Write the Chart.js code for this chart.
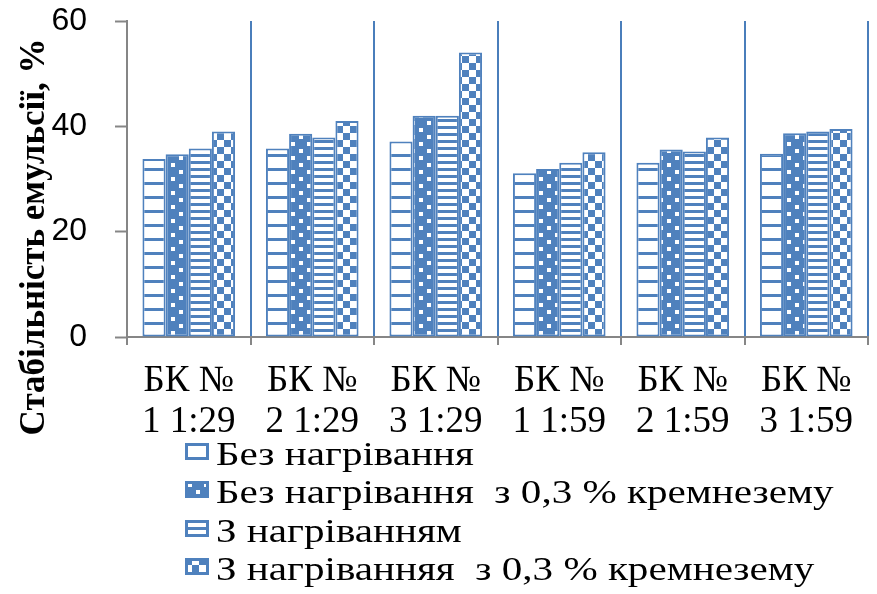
<!DOCTYPE html>
<html>
<head>
<meta charset="utf-8">
<script src="https://cdn.jsdelivr.net/npm/chart.js@4/dist/chart.umd.min.js"></script>
<style>
  html, body { margin: 0; padding: 0; background: #ffffff; }
  #wrap { width: 877px; height: 594px; }
  canvas { display: block; }
</style>
</head>
<body>
<div id="wrap"><canvas id="c" width="877" height="594"></canvas></div>
<script>
// Samples: emulsion stability with and without heating / silica additive
const categories = [
  ['БК №', '1 1:29'],
  ['БК №', '2 1:29'],
  ['БК №', '3 1:29'],
  ['БК №', '1 1:59'],
  ['БК №', '2 1:59'],
  ['БК №', '3 1:59']
];

const seriesNames = [
  'Без нагрівання',
  'Без нагрівання  з 0,3 % кремнезему',
  'З нагріванням',
  'З нагріванняя  з 0,3 % кремнезему'
];

const noHeating       = [33.8, 35.8, 37.1, 31.1, 33.1, 34.8];
const noHeatingSilica = [34.7, 38.6, 42.0, 31.9, 35.6, 38.7];
const heating         = [35.8, 37.9, 42.0, 33.1, 35.2, 39.0];
const heatingSilica   = [39.0, 41.0, 54.0, 35.1, 37.9, 39.5];

const yTicks = [0, 20, 40, 60];
const yTitle = 'Стабільність емульсії, %';

const BLUE = '#4F81BD';
const GRID_BLUE = '#4A7EBB';
const AXIS_GREY = '#868686';
const SERIF = '"Liberation Serif", "Times New Roman", serif';
const SANS = '"Liberation Sans", Arial, sans-serif';

const canvas = document.getElementById('c');
const ctx = canvas.getContext('2d');

// Tile-based fills for the four bar series
function makePattern(w, h, draw) {
  const tile = document.createElement('canvas');
  tile.width = w; tile.height = h;
  const g = tile.getContext('2d');
  draw(g, w, h);
  return ctx.createPattern(tile, 'repeat');
}

const wideStripes = makePattern(8, 14, (g, w, h) => {
  g.fillStyle = '#ffffff'; g.fillRect(0, 0, w, h);
  g.fillStyle = BLUE; g.fillRect(0, 0, w, 3);
});

const dots = makePattern(16, 14, (g, w, h) => {
  g.fillStyle = BLUE; g.fillRect(0, 0, w, h);
  g.fillStyle = '#ffffff';
  g.fillRect(3, 2, 4, 4);
  g.fillRect(11, 9, 4, 4);
});

const narrowStripes = makePattern(8, 7, (g, w, h) => {
  g.fillStyle = '#ffffff'; g.fillRect(0, 0, w, h);
  g.fillStyle = BLUE; g.fillRect(0, 0, w, 3);
});

const checker = makePattern(14, 14, (g, w, h) => {
  g.fillStyle = '#ffffff'; g.fillRect(0, 0, w, h);
  g.fillStyle = BLUE;
  g.fillRect(0, 0, 7, 7);
  g.fillRect(7, 7, 7, 7);
});

const fills = [wideStripes, dots, narrowStripes, checker];
const values = [noHeating, noHeatingSilica, heating, heatingSilica];

// Rotated axis title and a left-aligned stacked legend
const annotate = {
  id: 'annotate',
  afterDraw(chart) {
    const c = chart.ctx;
    c.save();
    c.translate(35, 237);
    c.rotate(-Math.PI / 2);
    c.font = 'bold 35px ' + SERIF;
    c.fillStyle = '#000000';
    c.textAlign = 'center';
    c.textBaseline = 'middle';
    c.fillText(yTitle, 0, 0);
    c.restore();

    const markerX = 185, markerW = 24, markerH = 17;
    const textX = 216;
    const baseline0 = 465, step = 38.4;
    chart.data.datasets.forEach((ds, i) => {
      const base = baseline0 + i * step;
      const top = Math.round(base - 22);
      c.save();
      c.translate(markerX, top);
      c.fillStyle = ds.backgroundColor;
      c.fillRect(0, 0, markerW, markerH);
      c.lineWidth = 3;
      c.strokeStyle = BLUE;
      c.strokeRect(1.5, 1.5, markerW - 3, markerH - 3);
      c.restore();

      c.save();
      c.translate(textX, base);
      c.scale(1.245, 1);
      c.font = '33px ' + SERIF;
      c.fillStyle = '#000000';
      c.textAlign = 'left';
      c.textBaseline = 'alphabetic';
      c.fillText(ds.label, 0, 0);
      c.restore();
    });
  }
};

new Chart(ctx, {
  type: 'bar',
  data: {
    labels: categories,
    datasets: seriesNames.map((name, i) => ({
      label: name,
      data: values[i],
      backgroundColor: fills[i],
      borderColor: BLUE,
      borderWidth: 2,
      borderSkipped: false,
      categoryPercentage: 0.75,
      barPercentage: 1.0
    }))
  },
  options: {
    responsive: false,
    animation: false,
    devicePixelRatio: 1,
    layout: { padding: { top: 21, right: 9, bottom: 0, left: 0 } },
    plugins: {
      legend: { display: false },
      tooltip: { enabled: false },
      title: { display: false }
    },
    scales: {
      x: {
        offset: true,
        grid: {
          offset: true,
          display: true,
          drawOnChartArea: true,
          color: GRID_BLUE,
          lineWidth: 2,
          tickColor: AXIS_GREY,
          tickWidth: 2,
          tickLength: 8
        },
        border: { display: true, color: AXIS_GREY, width: 2 },
        ticks: {
          color: '#000000',
          padding: 16,
          maxRotation: 0,
          autoSkip: false,
          font: { family: SERIF, size: 37, lineHeight: 1.1 }
        },
        afterFit(scale) {
          scale.height = 594 - 337;
          scale.paddingLeft = 0;
          scale.paddingRight = 0;
        }
      },
      y: {
        min: 0,
        max: 60,
        afterBuildTicks(scale) { scale.ticks = yTicks.map(v => ({ value: v })); },
        grid: {
          drawOnChartArea: false,
          color: AXIS_GREY,
          tickColor: AXIS_GREY,
          tickWidth: 2,
          tickLength: 12
        },
        border: { display: true, color: AXIS_GREY, width: 2 },
        ticks: {
          color: '#000000',
          padding: 28,
          font: { family: SANS, size: 32 }
        },
        afterFit(scale) {
          scale.width = 127;
          scale.paddingTop = 0;
          scale.paddingBottom = 0;
        }
      }
    }
  },
  plugins: [annotate]
});
</script>
</body>
</html>
